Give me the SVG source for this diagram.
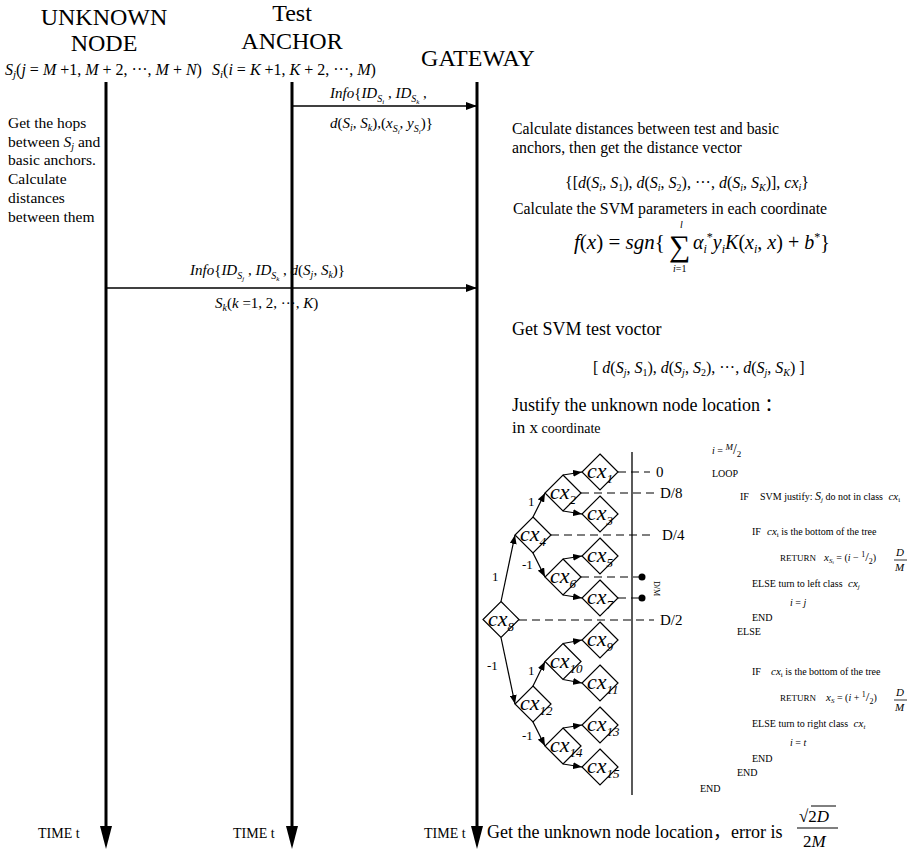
<svg xmlns="http://www.w3.org/2000/svg" width="909" height="852" viewBox="0 0 909 852">
<defs>
<style>
text{font-family:"Liberation Serif","Times New Roman","Noto Sans CJK SC",serif;fill:#000}
.i{font-style:italic}
.h{font-size:24px;text-anchor:middle}
.life{stroke:#000;stroke-width:3}
.msg{stroke:#000;stroke-width:1.3}
.conn{stroke:#000;stroke-width:1.2;fill:none}
.dash{stroke:#000;stroke-width:1.2;stroke-dasharray:8 5}
.dia polygon{fill:#fff;stroke:#000;stroke-width:1.2}
.dia text{font-size:22px;font-style:italic}
.pc{font-size:10px}
.m{font-size:15px}
.lt{font-size:15.5px}
.gt{font-size:15.8px}
</style>
<marker id="ah" markerWidth="11" markerHeight="8" refX="11" refY="4" orient="auto" markerUnits="userSpaceOnUse"><path d="M0,0 L11,4 L0,8 z"/></marker>
<marker id="ta" markerWidth="9" markerHeight="7" refX="9" refY="3.5" orient="auto" markerUnits="userSpaceOnUse"><path d="M0,0 L9,3.5 L0,7 z"/></marker>
</defs>
<rect width="909" height="852" fill="#fff"/>

<g id="headers">
<text class="h" x="104" y="25">UNKNOWN</text>
<text class="h" x="104" y="51">NODE</text>
<text class="h" x="292" y="21">Test</text>
<text class="h" x="292" y="49">ANCHOR</text>
<text class="h" x="478" y="66">GATEWAY</text>
<text x="5" y="75" font-size="16"><tspan class="i">S</tspan><tspan class="i" font-size="11" dy="3">j</tspan><tspan dy="-3">(</tspan><tspan class="i">j</tspan> = <tspan class="i">M</tspan> +1, <tspan class="i">M</tspan> + 2, ···, <tspan class="i">M</tspan> + <tspan class="i">N</tspan>)</text>
<text x="212" y="75" font-size="16"><tspan class="i">S</tspan><tspan class="i" font-size="11" dy="3">i</tspan><tspan dy="-3">(</tspan><tspan class="i">i</tspan> = <tspan class="i">K</tspan> +1, <tspan class="i">K</tspan> + 2, ···, <tspan class="i">M</tspan>)</text>
</g>

<g id="texts">
<text class="m" x="330" y="98"><tspan class="i">Info</tspan>{<tspan class="i">ID</tspan><tspan class="i" font-size="10" dy="4">S</tspan><tspan class="i" font-size="7" dy="2">i</tspan><tspan dy="-6"> , </tspan><tspan class="i">ID</tspan><tspan class="i" font-size="10" dy="4">S</tspan><tspan class="i" font-size="7" dy="2">k</tspan><tspan dy="-6"> ,</tspan></text>
<text class="m" x="330" y="128"><tspan class="i">d</tspan>(<tspan class="i">S</tspan><tspan class="i" font-size="10" dy="3">i</tspan><tspan dy="-3">, </tspan><tspan class="i">S</tspan><tspan class="i" font-size="10" dy="3">k</tspan><tspan dy="-3">),(</tspan><tspan class="i">x</tspan><tspan class="i" font-size="10" dy="4">S</tspan><tspan class="i" font-size="7" dy="2">i</tspan><tspan dy="-6">, </tspan><tspan class="i">y</tspan><tspan class="i" font-size="10" dy="4">S</tspan><tspan class="i" font-size="7" dy="2">i</tspan><tspan dy="-6">)}</tspan></text>

<text class="lt" x="8" y="128">Get the hops</text>
<text class="lt" x="8" y="147">between <tspan class="i">S</tspan><tspan class="i" font-size="10" dy="3">j</tspan><tspan dy="-3"> and</tspan></text>
<text class="lt" x="8" y="165">basic anchors.</text>
<text class="lt" x="8" y="184">Calculate</text>
<text class="lt" x="8" y="203">distances</text>
<text class="lt" x="8" y="222">between them</text>

<text class="gt" x="512" y="134">Calculate distances between test and basic</text>
<text class="gt" x="512" y="153">anchors, then get the distance vector</text>
<text x="565" y="188" font-size="16">{[<tspan class="i">d</tspan>(<tspan class="i">S</tspan><tspan class="i" font-size="10" dy="3">i</tspan><tspan dy="-3">, </tspan><tspan class="i">S</tspan><tspan font-size="10" dy="3">1</tspan><tspan dy="-3">), </tspan><tspan class="i">d</tspan>(<tspan class="i">S</tspan><tspan class="i" font-size="10" dy="3">i</tspan><tspan dy="-3">, </tspan><tspan class="i">S</tspan><tspan font-size="10" dy="3">2</tspan><tspan dy="-3">), ···, </tspan><tspan class="i">d</tspan>(<tspan class="i">S</tspan><tspan class="i" font-size="10" dy="3">i</tspan><tspan dy="-3">, </tspan><tspan class="i">S</tspan><tspan class="i" font-size="10" dy="3">K</tspan><tspan dy="-3">)], </tspan><tspan class="i">cx</tspan><tspan class="i" font-size="10" dy="3">i</tspan><tspan dy="-3">}</tspan></text>
<text class="gt" x="513" y="214">Calculate the SVM parameters in each coordinate</text>
<text x="574" y="249" font-size="21"><tspan class="i">f</tspan>(<tspan class="i">x</tspan>) = <tspan class="i">sgn</tspan>{</text>
<text x="669" y="256" font-size="30">∑</text>
<text x="680" y="228" font-size="10" class="i">l</text>
<text x="673" y="272" font-size="10"><tspan class="i">i</tspan>=1</text>
<text x="693" y="249" font-size="20"><tspan class="i">α</tspan><tspan class="i" font-size="12" dy="4">i</tspan><tspan font-size="12" dy="-12">*</tspan><tspan class="i" dy="8">y</tspan><tspan class="i" font-size="12" dy="4">i</tspan><tspan class="i" dy="-4">K</tspan>(<tspan class="i">x</tspan><tspan class="i" font-size="12" dy="4">i</tspan><tspan dy="-4">, </tspan><tspan class="i">x</tspan>) + <tspan class="i">b</tspan><tspan font-size="12" dy="-8">*</tspan><tspan dy="8">}</tspan></text>

<text class="m" x="190" y="275"><tspan class="i">Info</tspan>{<tspan class="i">ID</tspan><tspan class="i" font-size="10" dy="4">S</tspan><tspan class="i" font-size="7" dy="2">j</tspan><tspan dy="-6"> , </tspan><tspan class="i">ID</tspan><tspan class="i" font-size="10" dy="4">S</tspan><tspan class="i" font-size="7" dy="2">k</tspan><tspan dy="-6"> , </tspan><tspan class="i">d</tspan>(<tspan class="i">S</tspan><tspan class="i" font-size="10" dy="3">j</tspan><tspan dy="-3">, </tspan><tspan class="i">S</tspan><tspan class="i" font-size="10" dy="3">k</tspan><tspan dy="-3">)}</tspan></text>
<text class="m" x="215" y="308"><tspan class="i">S</tspan><tspan class="i" font-size="10" dy="3">k</tspan><tspan dy="-3">(</tspan><tspan class="i">k</tspan> =1, 2, ···, <tspan class="i">K</tspan>)</text>

<text x="512" y="335" font-size="18">Get SVM test voctor</text>
<text x="593" y="373" font-size="16">[ <tspan class="i">d</tspan>(<tspan class="i">S</tspan><tspan class="i" font-size="10" dy="3">j</tspan><tspan dy="-3">, </tspan><tspan class="i">S</tspan><tspan font-size="10" dy="3">1</tspan><tspan dy="-3">), </tspan><tspan class="i">d</tspan>(<tspan class="i">S</tspan><tspan class="i" font-size="10" dy="3">j</tspan><tspan dy="-3">, </tspan><tspan class="i">S</tspan><tspan font-size="10" dy="3">2</tspan><tspan dy="-3">), ···, </tspan><tspan class="i">d</tspan>(<tspan class="i">S</tspan><tspan class="i" font-size="10" dy="3">j</tspan><tspan dy="-3">, </tspan><tspan class="i">S</tspan><tspan class="i" font-size="10" dy="3">K</tspan><tspan dy="-3">) ]</tspan></text>
<text x="512" y="411" font-size="18">Justify the unknown node location ：</text>
<text x="512" y="433" font-size="17">in x<tspan font-size="14"> coordinate</tspan></text>

<text x="38" y="838" font-size="14">TIME t</text>
<text x="233" y="838" font-size="14">TIME t</text>
<text x="424" y="838" font-size="14">TIME t</text>
<text x="487" y="838" font-size="18">Get the unknown node location，error is</text>
<text x="799" y="822" font-size="17">√2<tspan class="i">D</tspan></text>
<line x1="811" y1="806" x2="836" y2="806" stroke="#000" stroke-width="1"/>
<line x1="797" y1="828" x2="838" y2="828" stroke="#000" stroke-width="1.1"/>
<text x="803" y="847" font-size="17">2<tspan class="i">M</tspan></text>
</g>

<g id="lifelines">
<line class="life" x1="106" y1="82" x2="106" y2="830"/>
<line class="life" x1="292" y1="82" x2="292" y2="830"/>
<line class="life" x1="477" y1="82" x2="477" y2="830"/>
<polygon points="100,826 112,826 106,849"/>
<polygon points="286,826 298,826 292,849"/>
<polygon points="471,826 483,826 477,849"/>
</g>

<g id="messages">
<line class="msg" x1="292" y1="106" x2="477" y2="106" marker-end="url(#ah)"/>
<line class="msg" x1="106" y1="288" x2="477" y2="288" marker-end="url(#ah)"/>
</g>

<g id="connectors">
<line class="conn" x1="501" y1="601.5" x2="515" y2="535" marker-end="url(#ta)"/>
<line class="conn" x1="501" y1="637.5" x2="515" y2="704" marker-end="url(#ta)"/>
<line class="conn" x1="533" y1="517" x2="545" y2="493" marker-end="url(#ta)"/>
<line class="conn" x1="533" y1="553" x2="545" y2="577" marker-end="url(#ta)"/>
<line class="conn" x1="533" y1="686" x2="545" y2="661.5" marker-end="url(#ta)"/>
<line class="conn" x1="533" y1="722" x2="545" y2="746" marker-end="url(#ta)"/>
<line class="conn" x1="563" y1="475" x2="582" y2="472" marker-end="url(#ta)"/>
<line class="conn" x1="563" y1="511" x2="582" y2="514" marker-end="url(#ta)"/>
<line class="conn" x1="563" y1="559" x2="582" y2="556" marker-end="url(#ta)"/>
<line class="conn" x1="563" y1="595" x2="582" y2="598" marker-end="url(#ta)"/>
<line class="conn" x1="563" y1="643.5" x2="582" y2="640" marker-end="url(#ta)"/>
<line class="conn" x1="563" y1="679.5" x2="582" y2="683" marker-end="url(#ta)"/>
<line class="conn" x1="563" y1="728" x2="582" y2="725" marker-end="url(#ta)"/>
<line class="conn" x1="563" y1="764" x2="582" y2="767" marker-end="url(#ta)"/>
<text x="492" y="581" font-size="13">1</text>
<text x="487" y="670" font-size="13">-1</text>
<text x="528" y="506" font-size="13">1</text>
<text x="522" y="569" font-size="13">-1</text>
<text x="528" y="675" font-size="13">1</text>
<text x="522" y="740" font-size="13">-1</text>
<line x1="632" y1="452" x2="632" y2="795" stroke="#000" stroke-width="1.3"/>
<line class="dash" x1="618" y1="472" x2="650" y2="472"/>
<line class="dash" x1="581" y1="493" x2="654" y2="493"/>
<line class="dash" x1="551" y1="535" x2="654" y2="535"/>
<line class="dash" x1="581" y1="577" x2="642" y2="577"/>
<line class="dash" x1="618" y1="598" x2="642" y2="598"/>
<line class="dash" x1="519" y1="620" x2="654" y2="620"/>
<circle cx="642" cy="577" r="3.5"/>
<circle cx="642" cy="598" r="3.5"/>
<text x="656" y="477" font-size="15">0</text>
<text x="660" y="498" font-size="15">D/8</text>
<text x="662" y="540" font-size="15">D/4</text>
<text x="660" y="625" font-size="15">D/2</text>
<text x="0" y="0" font-size="8" transform="translate(654,581) rotate(90)">D/M</text>
</g>

<g id="cx1" class="dia"><polygon points="600,454 618,472 600,490 582,472"/><text x="587" y="478">cx<tspan font-size="13" dy="5">1</tspan></text></g>
<g id="cx2" class="dia"><polygon points="563,475 581,493 563,511 545,493"/><text x="550" y="499">cx<tspan font-size="13" dy="5">2</tspan></text></g>
<g id="cx3" class="dia"><polygon points="600,496 618,514 600,532 582,514"/><text x="587" y="520">cx<tspan font-size="13" dy="5">3</tspan></text></g>
<g id="cx4" class="dia"><polygon points="533,517 551,535 533,553 515,535"/><text x="520" y="541">cx<tspan font-size="13" dy="5">4</tspan></text></g>
<g id="cx5" class="dia"><polygon points="600,538 618,556 600,574 582,556"/><text x="587" y="562">cx<tspan font-size="13" dy="5">5</tspan></text></g>
<g id="cx6" class="dia"><polygon points="563,559 581,577 563,595 545,577"/><text x="550" y="583">cx<tspan font-size="13" dy="5">6</tspan></text></g>
<g id="cx7" class="dia"><polygon points="600,580 618,598 600,616 582,598"/><text x="587" y="604">cx<tspan font-size="13" dy="5">7</tspan></text></g>
<g id="cx8" class="dia"><polygon points="501,601.5 519,619.5 501,637.5 483,619.5"/><text x="488" y="625.5">cx<tspan font-size="13" dy="5">8</tspan></text></g>
<g id="cx9" class="dia"><polygon points="600,622 618,640 600,658 582,640"/><text x="587" y="646">cx<tspan font-size="13" dy="5">9</tspan></text></g>
<g id="cx10" class="dia"><polygon points="563,643.5 581,661.5 563,679.5 545,661.5"/><text x="550" y="667.5">cx<tspan font-size="13" dy="5">10</tspan></text></g>
<g id="cx11" class="dia"><polygon points="600,665 618,683 600,701 582,683"/><text x="587" y="689">cx<tspan font-size="13" dy="5">11</tspan></text></g>
<g id="cx12" class="dia"><polygon points="533,686 551,704 533,722 515,704"/><text x="520" y="710">cx<tspan font-size="13" dy="5">12</tspan></text></g>
<g id="cx13" class="dia"><polygon points="600,707 618,725 600,743 582,725"/><text x="587" y="731">cx<tspan font-size="13" dy="5">13</tspan></text></g>
<g id="cx14" class="dia"><polygon points="563,728 581,746 563,764 545,746"/><text x="550" y="752">cx<tspan font-size="13" dy="5">14</tspan></text></g>
<g id="cx15" class="dia"><polygon points="600,749 618,767 600,785 582,767"/><text x="587" y="773">cx<tspan font-size="13" dy="5">15</tspan></text></g>

<g id="pseudocode" class="pc">
<text x="712" y="454"><tspan class="i">i</tspan> = <tspan class="i" font-size="9" dy="-4">M</tspan><tspan font-size="14" dy="4">/</tspan><tspan font-size="9" dy="3">2</tspan></text>
<text x="712" y="477">LOOP</text>
<text x="740" y="500">IF</text>
<text x="760" y="500">SVM justify: <tspan class="i" font-size="12">S</tspan><tspan class="i" font-size="7" dy="2">j</tspan><tspan dy="-2"> do not in class </tspan><tspan class="i" font-size="11" dx="3">cx</tspan><tspan font-size="7" dy="2">i</tspan></text>
<text x="752" y="535">IF</text>
<text x="767" y="535"><tspan class="i" font-size="11">cx</tspan><tspan font-size="7" dy="2">i</tspan><tspan dy="-2"> is the bottom of the tree</tspan></text>
<text x="780" y="561" font-size="9">RETURN</text>
<text x="824" y="561"><tspan class="i" font-size="11">x</tspan><tspan class="i" font-size="7" dy="2">S</tspan><tspan class="i" font-size="5" dy="1">i</tspan><tspan dy="-3"> = (</tspan><tspan class="i">i</tspan> − <tspan font-size="8" dy="-4">1</tspan><tspan font-size="13" dy="4">/</tspan><tspan font-size="8" dy="3">2</tspan><tspan dy="-3">)</tspan></text>
<text x="896" y="556" font-size="11" class="i">D</text>
<line x1="894" y1="560" x2="907" y2="560" stroke="#000" stroke-width="0.8"/>
<text x="895" y="571" font-size="11" class="i">M</text>
<text x="752" y="587">ELSE turn to left class <tspan class="i" font-size="11" dx="3">cx</tspan><tspan class="i" font-size="7" dy="2">j</tspan></text>
<text x="790" y="606"><tspan class="i">i</tspan> = <tspan class="i">j</tspan></text>
<text x="752" y="621">END</text>
<text x="737" y="635">ELSE</text>
<text x="752" y="675">IF</text>
<text x="771" y="675"><tspan class="i" font-size="11">cx</tspan><tspan font-size="7" dy="2">i</tspan><tspan dy="-2">  is the bottom of the tree</tspan></text>
<text x="780" y="701" font-size="9">RETURN</text>
<text x="826" y="701"><tspan class="i" font-size="11">x</tspan><tspan class="i" font-size="7" dy="2">S</tspan><tspan dy="-2"> = (</tspan><tspan class="i">i</tspan> + <tspan font-size="8" dy="-4">1</tspan><tspan font-size="13" dy="4">/</tspan><tspan font-size="8" dy="3">2</tspan><tspan dy="-3">)</tspan></text>
<text x="896" y="696" font-size="11" class="i">D</text>
<line x1="894" y1="700" x2="907" y2="700" stroke="#000" stroke-width="0.8"/>
<text x="895" y="711" font-size="11" class="i">M</text>
<text x="752" y="727">ELSE turn to right class <tspan class="i" font-size="11" dx="3">cx</tspan><tspan class="i" font-size="7" dy="2">t</tspan></text>
<text x="790" y="746"><tspan class="i">i</tspan> = <tspan class="i">t</tspan></text>
<text x="752" y="762">END</text>
<text x="737" y="776">END</text>
<text x="700" y="792">END</text>
</g>
</svg>
